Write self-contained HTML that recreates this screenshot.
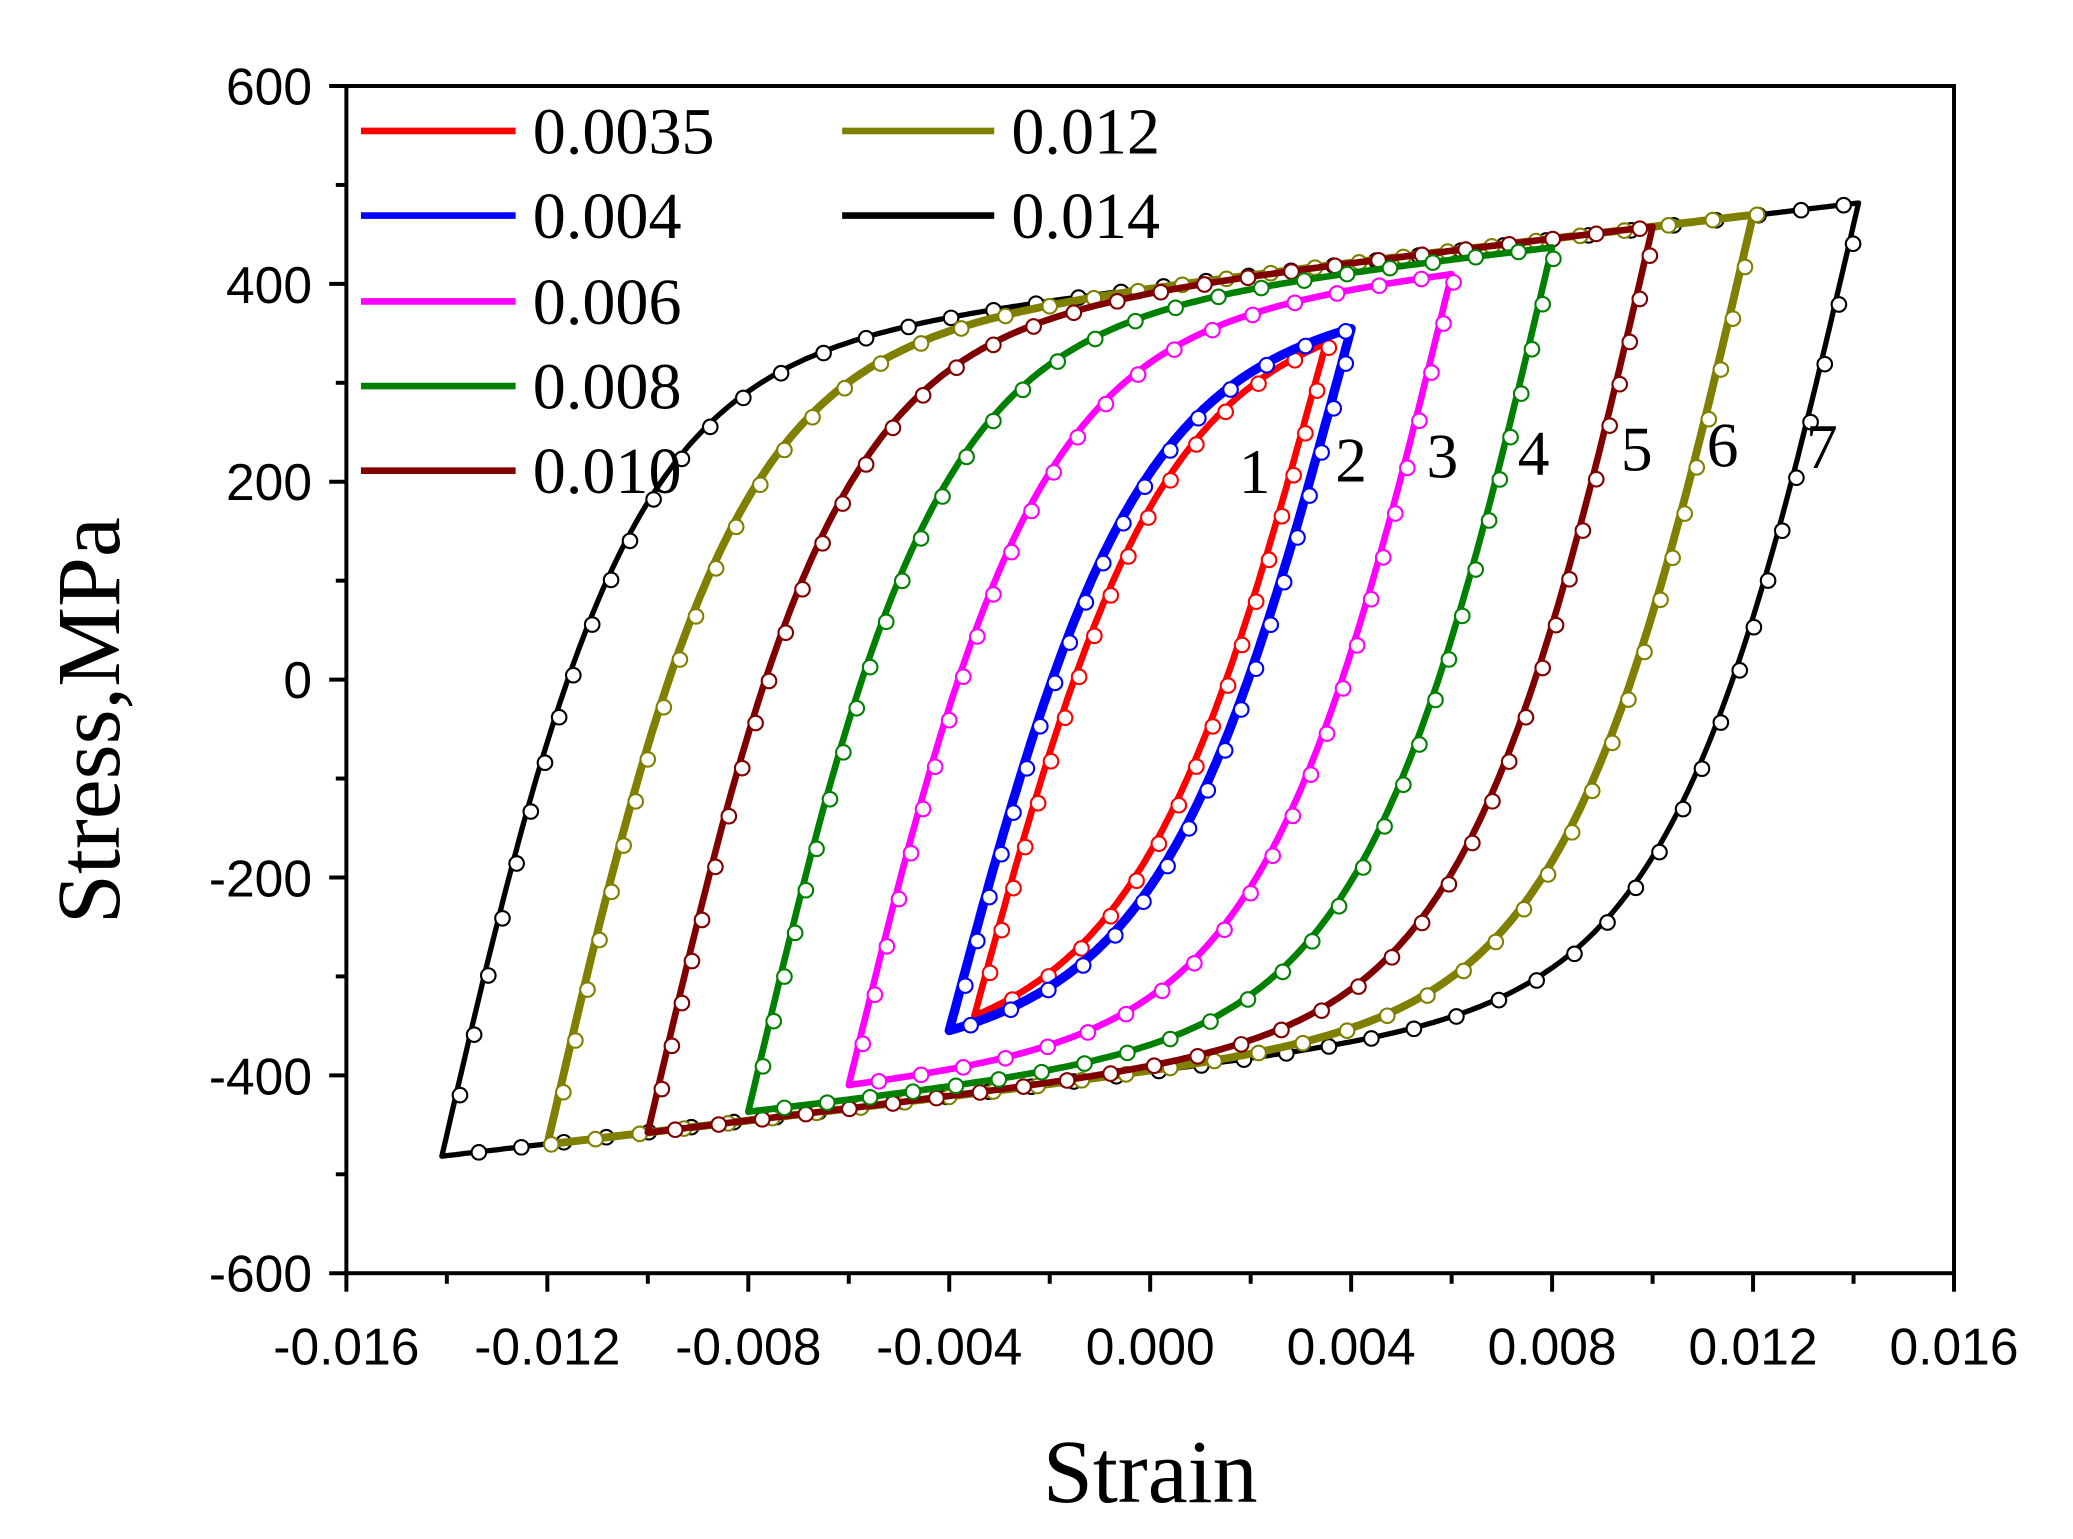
<!DOCTYPE html>
<html><head><meta charset="utf-8"><style>
html,body{margin:0;padding:0;background:#fff;}
svg{display:block;}
.t{font-family:"Liberation Sans",Arial,sans-serif;font-size:39px;fill:#000;}
.s{font-family:"Liberation Serif","Times New Roman",serif;fill:#000;}
</style></head><body>
<svg id="c" width="2073" height="1539" viewBox="0 0 1568 1164" xmlns="http://www.w3.org/2000/svg">
<rect width="1568" height="1164" fill="#fff"/>
<g id="curves"></g>
<g stroke="#000" stroke-width="3" fill="none">
<rect x="262" y="65" width="1216" height="898"/>
</g>
<g id="ticks" stroke="#000" stroke-width="3"></g>
<g class="t" text-anchor="end">
<text x="236" y="79">600</text><text x="236" y="229">400</text><text x="236" y="378">200</text>
<text x="236" y="528">0</text><text x="236" y="678">-200</text><text x="236" y="828">-400</text><text x="236" y="977">-600</text>
</g>
<g class="t" text-anchor="middle">
<text x="262" y="1032">-0.016</text><text x="414" y="1032">-0.012</text><text x="566" y="1032">-0.008</text>
<text x="718" y="1032">-0.004</text><text x="870" y="1032">0.000</text><text x="1022" y="1032">0.004</text>
<text x="1174" y="1032">0.008</text><text x="1326" y="1032">0.012</text><text x="1478" y="1032">0.016</text>
</g>
<text class="s" x="870" y="1136" font-size="68" text-anchor="middle">Strain</text>
<text class="s" font-size="68" text-anchor="middle" transform="translate(90,545) rotate(-90)">Stress,MPa</text>
<g stroke-width="5">
<line x1="273" y1="99" x2="390" y2="99" stroke="#ff0000"/>
<line x1="273" y1="163" x2="390" y2="163" stroke="#0000ff"/>
<line x1="273" y1="228" x2="390" y2="228" stroke="#ff00ff"/>
<line x1="273" y1="292" x2="390" y2="292" stroke="#008000"/>
<line x1="273" y1="356" x2="390" y2="356" stroke="#800000"/>
<line x1="637" y1="99" x2="752" y2="99" stroke="#808000"/>
<line x1="637" y1="163" x2="752" y2="163" stroke="#000"/>
</g>
<g class="s" font-size="50">
<text x="403" y="116">0.0035</text><text x="403" y="180">0.004</text><text x="403" y="245">0.006</text>
<text x="403" y="309">0.008</text><text x="403" y="373">0.010</text>
<text x="765" y="116">0.012</text><text x="765" y="180">0.014</text>
</g>
<g class="s" font-size="48">
<text x="937" y="373">1</text><text x="1010" y="364">2</text><text x="1079" y="361">3</text>
<text x="1148" y="359">4</text><text x="1226" y="356">5</text><text x="1291" y="353">6</text><text x="1366" y="354">7</text>
</g>
</svg>
<script>
(function(){
var NS="http://www.w3.org/2000/svg";
function X(e){return 870+e*38000;}
function Y(s){return 514-s*0.748;}
function g(x){return 396*Math.tanh(213000*x/396)+6000*x;}
var loops=[
 [0.0141,482,"#000000",4],
 [0.012,470,"#808000",6],
 [0.010,458,"#800000",5],
 [0.008,437,"#008000",5],
 [0.006,410,"#ff00ff",5],
 [0.0035,340,"#ff0000",5],
 [0.004,355,"#0000ff",7]
];
var cg=document.getElementById("curves");
loops.forEach(function(L){
 var a=L[0],S=L[1],col=L[2],w=L[3],ga=g(a);
 var up=[],dn=[],N=300,i;
 for(i=0;i<=N;i++){var e=-a+2*a*i/N;up.push([X(e),Y(-S+2*S*g((e+a)/2)/ga)]);}
 for(i=0;i<=N;i++){var e=a-2*a*i/N;dn.push([X(e),Y(S-2*S*g((a-e)/2)/ga)]);}
 var pts=up.concat(dn);
 var d="M"+pts.map(function(p){return p[0].toFixed(1)+" "+p[1].toFixed(1);}).join("L")+"Z";
 var p=document.createElementNS(NS,"path");
 p.setAttribute("d",d);p.setAttribute("fill","none");p.setAttribute("stroke",col);
 p.setAttribute("stroke-width",w);p.setAttribute("stroke-linejoin","round");
 cg.appendChild(p);
 var acc=0,step=32;
 for(i=1;i<pts.length;i++){
  var dx=pts[i][0]-pts[i-1][0],dy=pts[i][1]-pts[i-1][1];acc+=Math.sqrt(dx*dx+dy*dy);
  if(acc>=step){acc=0;
   var c=document.createElementNS(NS,"circle");
   c.setAttribute("cx",pts[i][0]+3);c.setAttribute("cy",pts[i][1]);c.setAttribute("r",5.5);
   c.setAttribute("fill","#fff");c.setAttribute("stroke",col);c.setAttribute("stroke-width",1.6);
   cg.appendChild(c);}
 }
});
var tg=document.getElementById("ticks"),k;
function ln(x1,y1,x2,y2){var l=document.createElementNS(NS,"line");l.setAttribute("x1",x1);l.setAttribute("y1",y1);l.setAttribute("x2",x2);l.setAttribute("y2",y2);tg.appendChild(l);}
for(k=0;k<=12;k++){var y=65+k*898/12;ln(262,y,k%2==0?249:254,y);}
for(k=0;k<=16;k++){var x=262+k*1216/16;ln(x,963,x,k%2==0?977:971);}
})();
</script>
</body></html>
